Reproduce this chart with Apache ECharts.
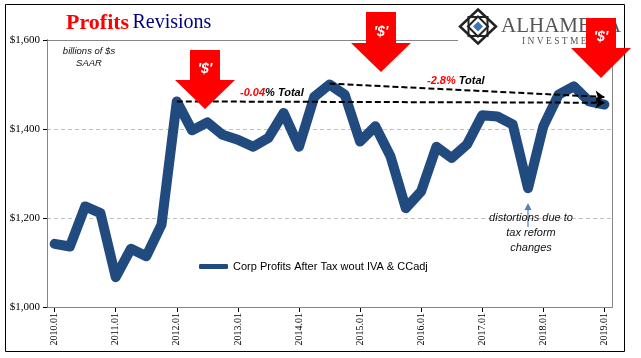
<!DOCTYPE html>
<html><head><meta charset="utf-8">
<script src="https://cdn.jsdelivr.net/npm/echarts@6/dist/echarts.min.js"></script>
<style>html,body{margin:0;padding:0;background:#fff}#c{width:641px;height:358px}</style>
</head><body><div id="c"></div>
<script>
// ---- data ----
const categories = [
  '2010.01','2010.04','2010.07','2010.10',
  '2011.01','2011.04','2011.07','2011.10',
  '2012.01','2012.04','2012.07','2012.10',
  '2013.01','2013.04','2013.07','2013.10',
  '2014.01','2014.04','2014.07','2014.10',
  '2015.01','2015.04','2015.07','2015.10',
  '2016.01','2016.04','2016.07','2016.10',
  '2017.01','2017.04','2017.07','2017.10',
  '2018.01','2018.04','2018.07','2018.10',
  '2019.01'
];
const profits = [
  1142,1136,1226,1211,
  1067,1131,1114,1185,
  1462,1397,1415,1387,
  1376,1360,1380,1436,
  1360,1472,1500,1477,
  1372,1406,1338,1222,
  1260,1360,1335,1365,
  1431,1428,1410,1267,
  1406,1477,1496,1462,
  1455
];
const yTickValues = [1000, 1200, 1400, 1600];
const seriesName = 'Corp Profits After Tax wout IVA & CCadj';
// trend lines: [startIndex, startValue, endIndex, endValue]
const trendLow = [8, 1462, 36, 1459];
const trendHigh = [18, 1502, 36, 1472];

// ---- helpers ----
function downArrow(cx, top, headTop, tip, bodyHalf, headHalf) {
  return {type:'polygon', z:20, silent:true,
    shape:{points:[[cx-bodyHalf,top],[cx+bodyHalf,top],[cx+bodyHalf,headTop],[cx+headHalf,headTop],[cx,tip],[cx-headHalf,headTop],[cx-bodyHalf,headTop]]},
    style:{fill:'#ff0000'}};
}
function dollarText(x, y) {
  return {type:'text', z:21, silent:true, x:x, y:y,
    style:{text:"'$'", fill:'#fff', font:'italic bold 14px "Liberation Sans"', align:'center', verticalAlign:'middle'}};
}
function diamond(cx, cy, hw, hh, style, z) {
  return {type:'polygon', z:z, silent:true, shape:{points:[[cx,cy-hh],[cx+hw,cy],[cx,cy+hh],[cx-hw,cy]]}, style:style};
}

const graphics = [
  // outer frame
  {type:'rect', z:0, silent:true, shape:{x:5.5,y:4.5,width:619,height:347}, style:{fill:'none', stroke:'#000', lineWidth:1}},
  // plot border (top/right)
  {type:'rect', z:1, silent:true, shape:{x:47.5,y:40.5,width:565,height:267}, style:{fill:'none', stroke:'#868686', lineWidth:1}},
  // logo white background
  {type:'rect', z:10, silent:true, shape:{x:458,y:6,width:166,height:39}, style:{fill:'#fff'}},
  diamond(478, 26.5, 18, 17, {fill:'none', stroke:'#222', lineWidth:2.5}, 11),
  {type:'rect', z:11, silent:true, shape:{x:468.5,y:17,width:19,height:19}, style:{fill:'none', stroke:'#222', lineWidth:2}},
  diamond(478, 26.5, 10, 10, {fill:'none', stroke:'#222', lineWidth:2}, 11),
  diamond(478, 26.5, 5, 5, {fill:'#3f72b9'}, 12),
  {type:'text', z:11, silent:true, x:501, y:26, style:{text:'ALHAMBRA', fill:'#555', font:'21px "Liberation Serif"', verticalAlign:'middle'}},
  {type:'text', z:11, silent:true, x:522, y:41, style:{text:'I N V E S T M E N T S', fill:'#555', font:'9.5px "Liberation Serif"', verticalAlign:'middle'}},
  // title
  {type:'text', z:21, silent:true, x:66, y:23, style:{text:'{a|Profits} {b|Revisions}', verticalAlign:'middle',
    rich:{a:{fill:'#ff0000', fontFamily:'Liberation Serif', fontWeight:'bold', fontSize:22},
          b:{fill:'#000080', fontFamily:'Liberation Serif', fontSize:20}}}},
  // units
  {type:'text', z:21, silent:true, x:89, y:51, style:{text:'billions of $s', fill:'#111', font:'italic 9.5px "Liberation Sans"', align:'center', verticalAlign:'middle'}},
  {type:'text', z:21, silent:true, x:89, y:63, style:{text:'SAAR', fill:'#111', font:'italic 9.5px "Liberation Sans"', align:'center', verticalAlign:'middle'}},
  // red arrows
  downArrow(205, 50, 80, 109, 15, 30), dollarText(205, 69),
  downArrow(381, 12, 43, 72, 15, 30), dollarText(381, 32),
  downArrow(601, 18, 48, 78, 15, 30), dollarText(601, 37),
  // trend labels
  {type:'text', z:21, silent:true, x:240, y:93, style:{text:'{r|-0.04}{k|% Total}', verticalAlign:'middle',
    rich:{r:{fill:'#ff0000', font:'italic bold 11px "Liberation Sans"'}, k:{fill:'#000', font:'italic bold 11px "Liberation Sans"'}}}},
  {type:'text', z:21, silent:true, x:427, y:81, style:{text:'{r|-2.8%}{k| Total}', verticalAlign:'middle',
    rich:{r:{fill:'#ff0000', font:'italic bold 11px "Liberation Sans"'}, k:{fill:'#000', font:'italic bold 11px "Liberation Sans"'}}}},
  // distortion note
  {type:'line', z:21, silent:true, shape:{x1:528,y1:227,x2:528,y2:207}, style:{stroke:'#4f81bd', lineWidth:1.2}},
  {type:'polygon', z:21, silent:true, shape:{points:[[528,203],[531.5,210],[524.5,210]]}, style:{fill:'#4f81bd'}},
  {type:'text', z:21, silent:true, x:531, y:233, style:{text:'distortions due to\ntax reform\nchanges', fill:'#111', font:'italic 11px "Liberation Sans"', align:'center', verticalAlign:'middle', lineHeight:15}}
];

const chart = echarts.init(document.getElementById('c'), null, {renderer:'canvas'});
chart.setOption({
  animation:false,
  backgroundColor:'#fff',
  grid:{left:47, right:29, top:40, bottom:51, containLabel:false},
  legend:{show:true, left:194, top:256, icon:'roundRect', itemWidth:29, itemHeight:5, selectedMode:false,
    textStyle:{fontSize:11, fontFamily:'Liberation Sans', color:'#000'}, data:[seriesName]},
  xAxis:{type:'category', data:categories, boundaryGap:true,
    axisLine:{lineStyle:{color:'#000', width:1}},
    axisTick:{show:true, interval:3, alignWithLabel:true, length:5, lineStyle:{color:'#000'}},
    axisLabel:{interval:3, rotate:90, margin:6, fontFamily:'Liberation Serif', fontSize:10, color:'#000'},
    splitLine:{show:false}},
  yAxis:{type:'value', min:yTickValues[0], max:yTickValues[yTickValues.length-1], interval:yTickValues[1]-yTickValues[0],
    axisLine:{show:true, lineStyle:{color:'#000', width:1}},
    axisTick:{show:true, length:4, lineStyle:{color:'#000'}},
    axisLabel:{margin:7, fontFamily:'Liberation Serif', fontSize:11, color:'#000',
      formatter:v => '$' + v.toLocaleString('en-US')},
    splitLine:{show:true, lineStyle:{color:'#bfbfbf', type:[4,3], width:1}}},
  series:[{
    name:seriesName, type:'line', data:profits, showSymbol:false, symbol:'none',
    itemStyle:{color:'#214b7e'},
    lineStyle:{color:'#214b7e', width:10, cap:'round', join:'round'},
    z:3,
    markLine:{silent:true, symbol:['none','arrow'], symbolSize:[9,9], label:{show:false},
      lineStyle:{color:'#000', type:[6,3], width:2},
      emphasis:{disabled:true},
      data:[
        [{coord:[trendLow[0], trendLow[1]]},{coord:[trendLow[2], trendLow[3]]}],
        [{coord:[trendHigh[0], trendHigh[1]]},{coord:[trendHigh[2], trendHigh[3]]}]
      ]}
  }],
  graphic:graphics
});
</script></body></html>
